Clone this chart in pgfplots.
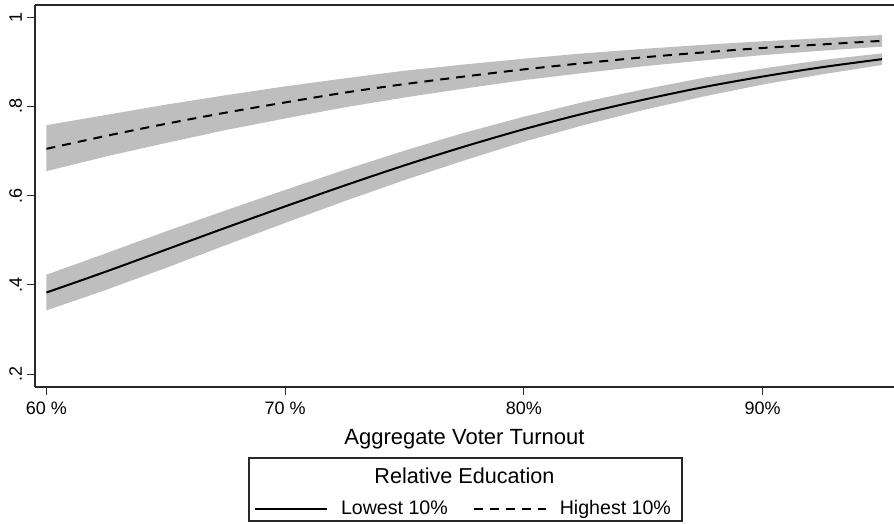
\documentclass[border=0pt]{standalone}
\usepackage{fontspec}
\setmainfont{Liberation Sans}
\usepackage{pgfplots}
\usepgfplotslibrary{fillbetween}
\pgfplotsset{compat=1.18}
\definecolor{band}{RGB}{190,190,190}
\definecolor{axisgray}{RGB}{40,40,40}

\pgfplotstableread{
x     y      lo     hi
60    0.383  0.343  0.423
62.5  0.430  0.389  0.471
65    0.479  0.438  0.520
67.5  0.528  0.489  0.567
70    0.576  0.539  0.613
72.5  0.623  0.588  0.658
75    0.668  0.635  0.701
77.5  0.710  0.679  0.741
80    0.749  0.721  0.777
82.5  0.784  0.758  0.810
85    0.815  0.792  0.838
87.5  0.843  0.822  0.864
90    0.867  0.849  0.885
92.5  0.888  0.872  0.904
95    0.906  0.893  0.919
}\lowest

\pgfplotstableread{
x     y      lo     hi
60    0.705  0.655  0.758
62.5  0.734  0.688  0.781
65    0.761  0.718  0.804
67.5  0.786  0.747  0.825
70    0.809  0.773  0.845
72.5  0.831  0.798  0.863
75    0.850  0.820  0.880
77.5  0.867  0.840  0.894
80    0.883  0.859  0.907
82.5  0.897  0.875  0.919
85    0.910  0.890  0.929
87.5  0.921  0.903  0.938
90    0.931  0.915  0.946
92.5  0.939  0.925  0.953
95    0.947  0.934  0.960
}\highest

\begin{document}
\begin{tikzpicture}
\begin{axis}[
  scale only axis,
  width=429.5pt, height=191pt,
  xmin=59.52, xmax=95.5,
  ymin=0.172, ymax=1.028,
  axis x line=box, axis y line=left,
  x axis line style={-}, y axis line style={-},
  axis line style={axisgray, line width=0.9pt},
  tick pos=left,
  tick align=outside,
  major tick length=4pt,
  tick style={axisgray, line width=0.5pt},
  xtick={60,70,80,90},
  xticklabels={60 \%, 70 \%, 80\%, 90\%},
  ytick={0.2,0.4,0.6,0.8,1},
  yticklabels={.2,.4,.6,.8,1},
  /pgf/number format/assume math mode=true,
  ticklabel style={font=\fontsize{9}{11}\selectfont},
  yticklabel style={xshift=1pt, rotate=90, anchor=south},
  xlabel={Aggregate Voter Turnout},
  xlabel style={font=\fontsize{11}{13}\selectfont, at={(axis description cs:0.5,-0.1526)}, anchor=base},
  legend style={draw=none, fill=none, at={(axis description cs:0.5,-0.3200)}, anchor=center,
    legend columns=2, font=\fontsize{9.8}{12}\selectfont,
    /tikz/every odd column/.append style={column sep=4.5pt},
    /tikz/every even column/.append style={column sep=10.5pt}},
  legend image code/.code={\draw[#1] (0pt,0pt) -- (36pt,0pt);},
  clip=false,
]
\addplot[name path=sh, draw=none, forget plot] table[x=x, y=hi] {\lowest};
\addplot[name path=sl, draw=none, forget plot] table[x=x, y=lo] {\lowest};
\addplot[band, forget plot] fill between[of=sh and sl];
\addplot[name path=hh, draw=none, forget plot] table[x=x, y=hi] {\highest};
\addplot[name path=hl, draw=none, forget plot] table[x=x, y=lo] {\highest};
\addplot[band, forget plot] fill between[of=hh and hl];
\addplot[black, line width=1pt, smooth] table[x=x, y=y] {\lowest};
\addlegendentry{Lowest 10\%}
\addplot[black, line width=1pt, smooth, dash pattern=on 4.5pt off 3.5pt] table[x=x, y=y] {\highest};
\addlegendentry{Highest 10\%}
\draw[axisgray, line width=0.8pt] (axis description cs:0.2491,-0.1860) rectangle (axis description cs:0.7532,-0.3510);
\node[anchor=base, font=\fontsize{10.8}{13}\selectfont] at (axis description cs:0.5,-0.2545) {Relative Education};
\coordinate (bbl) at (axis description cs:-0.04075,-0.3594);
\coordinate (btr) at (axis description cs:1,1.0123);
\end{axis}
\pgfresetboundingbox
\useasboundingbox (bbl) rectangle (btr);
\end{tikzpicture}
\end{document}
